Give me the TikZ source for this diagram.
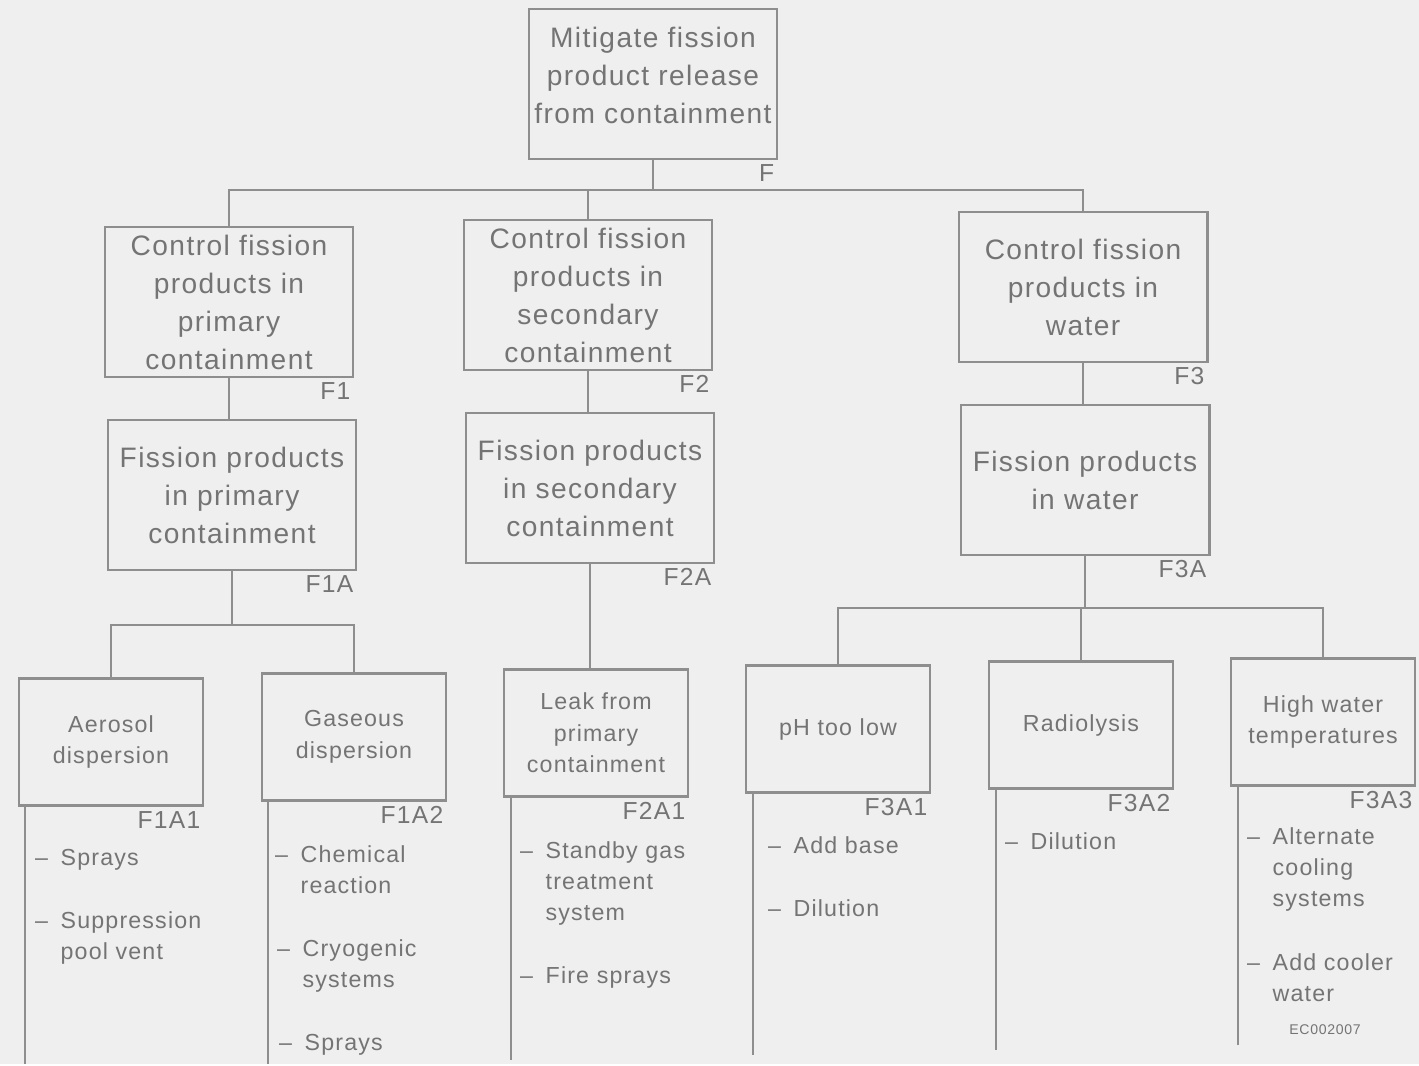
\documentclass[tikz,border=0pt]{standalone}
\usepackage{fontspec}
\setmainfont{Liberation Sans}[LetterSpace=5]
\usetikzlibrary{positioning}
\definecolor{paper}{HTML}{EFEFEF}
\definecolor{ink}{HTML}{747474}
\definecolor{rule}{HTML}{8E8E8E}
\tikzset{
    box/.style={draw=rule, line width=0.8pt, text=ink, align=center, inner sep=0pt},
    bigbox/.style={box, minimum width=2.48cm, minimum height=1.5cm,
        font=\fontsize{8}{10.8}\selectfont},
    leafbox/.style={box, minimum width=1.84cm, minimum height=1.27cm,
        font=\fontsize{6.6}{9}\selectfont},
    tag/.style={text=ink, inner sep=1pt, anchor=north east,
        font=\fontsize{7}{8}\selectfont},
    note/.style={text=ink, inner sep=0pt, anchor=north west, align=left,
        font=\fontsize{6.6}{8.8}\selectfont},
    link/.style={draw=rule, line width=0.8pt},
}
\newcommand{\dsh}{\llap{--\hspace{0.55em}}}

\begin{document}
\begin{tikzpicture}[x=0.01cm, y=-0.01cm]
    \fill[paper] (0,0) rectangle (1419,1064);
    % top level
    \node[bigbox] (F) at (653,84) {Mitigate fission\\product release\\from containment\\[-6pt]\mbox{}};
    \node[tag] (tF) at (F.south east) {F};
    % second level
    \node[bigbox] (F1) at (229,302) {Control fission\\products in\\primary\\containment};
    \node[bigbox] (F2) at (588,295) {Control fission\\products in\\secondary\\containment};
    \node[bigbox] (F3) at (1083,287) {Control fission\\products in\\water};
    \node[tag] (tF1) at (F1.south east) {F1};
    \node[tag] (tF2) at (F2.south east) {F2};
    \node[tag] (tF3) at (F3.south east) {F3};
    % third level
    \node[bigbox] (F1A) at (232,495) {Fission products\\in primary\\containment};
    \node[bigbox] (F2A) at (590,488) {Fission products\\in secondary\\containment};
    \node[bigbox] (F3A) at (1085,480) {Fission products\\in water};
    \node[tag] (tF1A) at (F1A.south east) {F1A};
    \node[tag] (tF2A) at (F2A.south east) {F2A};
    \node[tag] (tF3A) at (F3A.south east) {F3A};
    % leaves
    \node[leafbox] (F1A1) at (111,742) {Aerosol\\dispersion};
    \node[leafbox] (F1A2) at (354,737) {Gaseous\\dispersion};
    \node[leafbox] (F2A1) at (596,733) {Leak from\\primary\\containment};
    \node[leafbox] (F3A1) at (838,729) {pH too low};
    \node[leafbox] (F3A2) at (1081,725) {Radiolysis};
    \node[leafbox] (F3A3) at (1323,722) {High water\\temperatures};
    \node[tag] (tF1A1) at (F1A1.south east) {F1A1};
    \node[tag] (tF1A2) at (F1A2.south east) {F1A2};
    \node[tag] (tF2A1) at (F2A1.south east) {F2A1};
    \node[tag] (tF3A1) at (F3A1.south east) {F3A1};
    \node[tag] (tF3A2) at (F3A2.south east) {F3A2};
    \node[tag] (tF3A3) at (F3A3.south east) {F3A3};

    % connectors
    \coordinate (busF) at (655,190);
    \coordinate (busA) at (232,625);
    \coordinate (busC) at (1085,608);
    \draw[link] (F.south) -- (F.south |- busF);
    \draw[link] (F1.north) |- (busF) -| (F3.north);
    \draw[link] (F2.north) -- (F2.north |- busF);
    \draw[link] (F1.south) -- (F1.south |- F1A.north);
    \draw[link] (F2.south) -- (F2.south |- F2A.north);
    \draw[link] (F3.south) -- (F3.south |- F3A.north);
    \draw[link] (F1A.south) -- (busA);
    \draw[link] (F1A1.north) |- (busA) -| (F1A2.north);
    \draw[link] (F2A.south) -- (F2A.south |- F2A1.north);
    \draw[link] (F3A.south) -- (busC);
    \draw[link] (F3A1.north) |- (busC) -| (F3A3.north);
    \draw[link] (F3A2.north) -- (F3A2.north |- busC);

    % lists under the leaves
    \coordinate (eF1A1) at (25,1064);
    \coordinate (eF1A2) at (268,1064);
    \coordinate (eF2A1) at (511,1060);
    \coordinate (eF3A1) at (753,1055);
    \coordinate (eF3A2) at (996,1050);
    \coordinate (eF3A3) at (1238,1045);
    \foreach \n in {F1A1,F1A2,F2A1,F3A1,F3A2,F3A3}
        \draw[link] (e\n |- \n.south) -- (e\n);

    \node[note] (n11) at (60,849) {\dsh Sprays};
    \node[note] (n12) at (60,911) {\dsh Suppression\\pool vent};
    \node[note] (n21) at (300,845) {\dsh Chemical\\reaction};
    \node[note] (n22) at (302,939) {\dsh Cryogenic\\systems};
    \node[note] (n23) at (304,1034) {\dsh Sprays};
    \node[note] (n31) at (545,841) {\dsh Standby gas\\treatment\\system};
    \node[note] (n32) at (545,966) {\dsh Fire sprays};
    \node[note] (n41) at (793,836) {\dsh Add base};
    \node[note] (n42) at (793,899) {\dsh Dilution};
    \node[note] (n51) at (1030,832) {\dsh Dilution};
    \node[note] (n61) at (1272,827) {\dsh Alternate\\cooling\\systems};
    \node[note] (n62) at (1272,953) {\dsh Add cooler\\water};
    \node[text=ink, font=\fontsize{4}{5}\selectfont, inner sep=0pt] (code) at (1325,1030) {EC002007};
\end{tikzpicture}
\end{document}
